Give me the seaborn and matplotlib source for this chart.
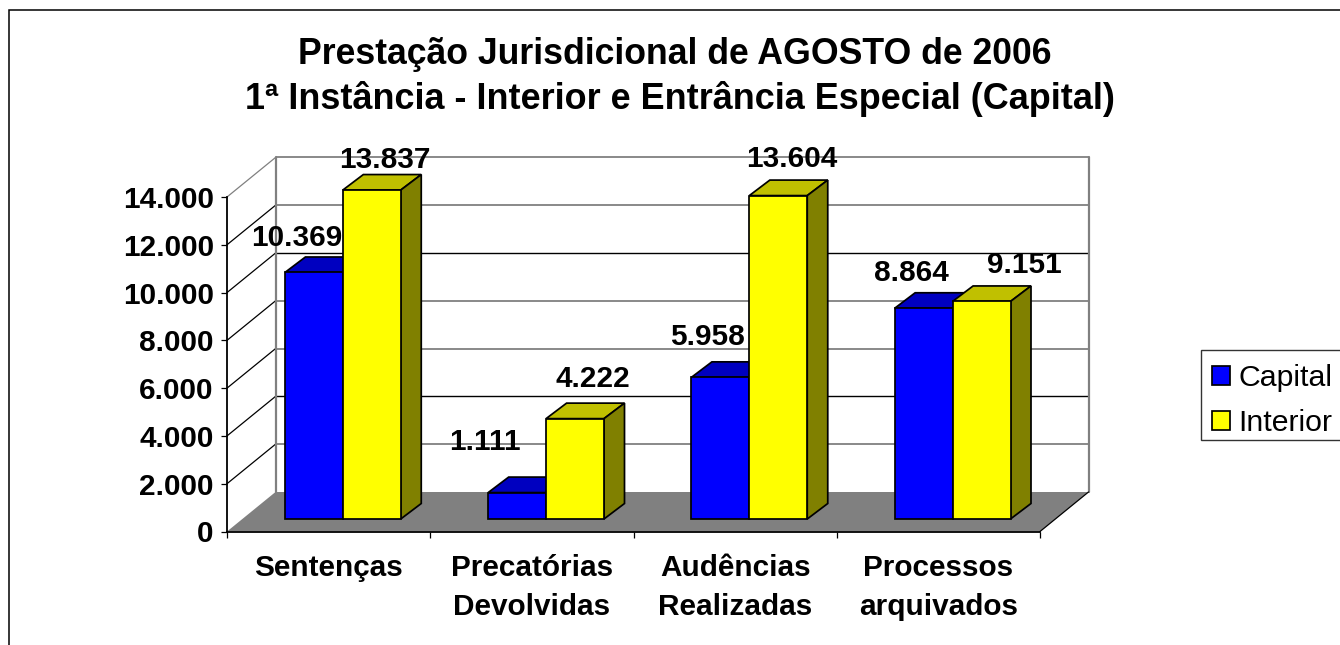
import matplotlib
matplotlib.use("Agg")
import matplotlib.pyplot as plt
import pandas as pd
import seaborn as sns
from matplotlib.patches import Polygon, Rectangle

categories = ["Sentenças", "Precatórias\nDevolvidas", "Audências\nRealizadas", "Processos\narquivados"]
capital_values = [10369, 1111, 5958, 8864]
interior_values = [13837, 4222, 13604, 9151]
y_ticks = [0, 2000, 4000, 6000, 8000, 10000, 12000, 14000]
title_line1 = "Prestação Jurisdicional de AGOSTO de 2006"
title_line2 = "1ª Instância - Interior e Entrância Especial (Capital)"

W, H = 1340, 645
PX_X = (1040 - 227) / 4
PX_Y = 334.5 / 14000

# depth of the fake 3d box, pixels turned into data units
WALL_DX = 48.5 / PX_X
WALL_DY = 39.5 / PX_Y
BAR_SHIFT_X = 14.2 / PX_X
BAR_SHIFT_Y = 12.5 / PX_Y
BAR_DX = 20.5 / PX_X
BAR_DY = 15.5 / PX_Y
BAR_SCALE = 0.995

GRAY = "#808080"
EDGE_LW = 1.25
fs = 29.8 * 72 / 100

# label offset from the bar's front top centre, pixels
capital_offsets = [(-17, 34), (-32, 51), (-12.5, 40), (-12, 35)]
interior_offsets = [(13, 30), (18, 40), (13, 37), (43, 36)]


def br_number(v):
    return f"{v:,}".replace(",", ".")


sns.set_theme(style="white")
plt.rcParams["font.family"] = ["Liberation Sans", "DejaVu Sans"]

df = pd.DataFrame({
    "categoria": categories * 2,
    "valor": capital_values + interior_values,
    "serie": ["Capital"] * 4 + ["Interior"] * 4,
})

fig = plt.figure(figsize=(W / 100, H / 100), dpi=100)
ax = fig.add_axes([227 / W, 1 - 531.5 / H, (1040 - 227) / W, 334.5 / H])
ax.patch.set_alpha(0)

sns.barplot(data=df, x="categoria", y="valor", hue="serie", palette=["#0000FF", "#FFFF00"],
            width=0.57, gap=0, saturation=1, edgecolor="black", linewidth=EDGE_LW, ax=ax)
ax.set_xlim(-0.5, 3.5)
ax.set_ylim(0, 14000)
ax.set_xlabel("")
ax.set_ylabel("")

# outer chart frame runs off the image on the right and bottom
fig.add_artist(Rectangle((8.5 / W, -0.1), 1.2, 1 - 9.5 / H + 0.1, transform=fig.transFigure,
                         fill=False, edgecolor="black", linewidth=1.1, zorder=-5))

# floor and walls
x0, x1 = -0.5, 3.5
ax.add_patch(Polygon([(x0, 0), (x1, 0), (x1 + WALL_DX, WALL_DY), (x0 + WALL_DX, WALL_DY)],
                     facecolor=GRAY, edgecolor="none", clip_on=False, zorder=0.5))
line_colors = [None, GRAY, "black", GRAY, GRAY, "black", GRAY, GRAY]
for v, c in zip(y_ticks, line_colors):
    if v == 0:
        continue
    ax.plot([x0 + WALL_DX, x1 + WALL_DX], [v + WALL_DY, v + WALL_DY], color=c,
            lw=1.3 if c == GRAY else 1.0, clip_on=False, zorder=0.6, solid_capstyle="butt")
    ax.plot([x0, x0 + WALL_DX], [v, v + WALL_DY], color="black" if v < 14000 else GRAY, lw=0.9,
            clip_on=False, zorder=0.6)
for wx in [x0 + WALL_DX, x1 + WALL_DX]:
    ax.plot([wx, wx], [WALL_DY, 14000 + WALL_DY], color=GRAY, lw=1.6, clip_on=False, zorder=0.7)
ax.plot([x1, x1 + WALL_DX], [0, WALL_DY], color="black", lw=0.9, clip_on=False, zorder=0.7)

# 3d faces of the bars, built on what seaborn drew
face_colors = [("#0000C0", "#000080"), ("#C0C000", "#808000")]
offset_sets = [capital_offsets, interior_offsets]
for s, container in enumerate(ax.containers):
    top_c, side_c = face_colors[s]
    for bar, off in zip(container.patches, offset_sets[s]):
        value = bar.get_height()
        bar.set_x(bar.get_x() + BAR_SHIFT_X)
        bar.set_y(BAR_SHIFT_Y)
        bar.set_height(value * BAR_SCALE)
        bar.set_clip_on(False)
        bar.set_zorder(3 + s)
        left = bar.get_x()
        right = left + bar.get_width()
        bottom = bar.get_y()
        top = bottom + bar.get_height()
        ax.add_patch(Polygon([(left, top), (right, top), (right + BAR_DX, top + BAR_DY), (left + BAR_DX, top + BAR_DY)],
                             facecolor=top_c, edgecolor="black", linewidth=EDGE_LW, clip_on=False,
                             zorder=2.9 + s, joinstyle="miter"))
        ax.add_patch(Polygon([(right, bottom), (right + BAR_DX, bottom + BAR_DY), (right + BAR_DX, top + BAR_DY), (right, top)],
                             facecolor=side_c, edgecolor="black", linewidth=EDGE_LW, clip_on=False,
                             zorder=2.9 + s, joinstyle="miter"))
        ax.annotate(br_number(int(value)), xy=(left + bar.get_width() / 2, top), xytext=off,
                    textcoords="offset pixels", ha="center", va="center", fontsize=fs,
                    fontweight="bold", color="black", annotation_clip=False, zorder=10)

# axes
sns.despine(ax=ax, top=True, right=True)
for side in ["left", "bottom"]:
    ax.spines[side].set_color("black")
    ax.spines[side].set_linewidth(1.3)
    ax.spines[side].set_zorder(2)
ax.set_yticks(y_ticks)
ax.set_yticklabels([br_number(v) for v in y_ticks], fontsize=fs, fontweight="bold", color="black")
ax.set_xticks(range(4))
ax.set_xticklabels(categories, fontsize=fs, fontweight="bold", color="black", linespacing=1.5)
ax.set_xticks([x0, 0.5, 1.5, 2.5, x1], minor=True)
ax.tick_params(axis="x", which="major", length=0, pad=16.5)
ax.tick_params(axis="x", which="minor", length=4.5, width=0.9, color="black", bottom=True)
ax.tick_params(axis="y", length=4.5, width=0.9, color="black", pad=5, left=True)

fig.text(674.5 / W, 1 - 55 / H, title_line1, ha="center", va="center", fontsize=35.6 * 72 / 100,
         fontweight="bold", color="black")
fig.text(680 / W, 1 - 99 / H, title_line2, ha="center", va="center", fontsize=36 * 72 / 100,
         fontweight="bold", color="black")

# legend box drawn apart, its padding is not even top and bottom
fig.add_artist(Rectangle((1201 / W, 1 - 440 / H), 160 / W, 90 / H, transform=fig.transFigure,
                         facecolor="white", edgecolor="#333333", linewidth=1.0, zorder=1))
handles, labels = ax.get_legend_handles_labels()
ax.get_legend().remove()
leg = fig.legend(handles, labels, loc="upper left", bbox_to_anchor=(1201 / W, 1 - 353 / H),
                 borderaxespad=0, fontsize=30.3 * 72 / 100, frameon=False,
                 handlelength=0.6, handleheight=0.6, handletextpad=0.26,
                 labelspacing=0.555, borderpad=0.37, labelcolor="black")
leg.set_zorder(2)

fig.savefig("out.png", dpi=100)
